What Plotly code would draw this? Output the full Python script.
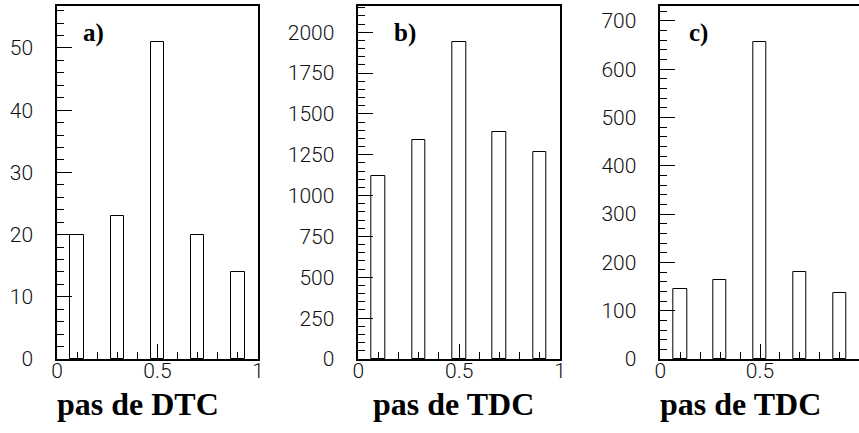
import plotly.graph_objects as go

# Data
bin_centers = [0.1, 0.3, 0.5, 0.7, 0.9]
bin_width = 1 / 15
counts_a = [20, 23, 51, 20, 14]
counts_b = [1120, 1339, 1943, 1388, 1265]
counts_c = [144, 164, 657, 181, 136]
panel_labels = ["a)", "b)", "c)"]
x_titles = ["pas de DTC", "pas de TDC", "pas de TDC"]

W, H = 859, 433
fig = go.Figure()

def px(x):
    return x / W

def py(y):
    return 1 - y / H

ydom = [py(359), py(6)]
panels = [
    dict(data=counts_a, xdom=[px(57), px(258)], xr=[0, 1], yr=[0, 56.75], dt=10, mdt=2,
         mirror_y=True, title_x=138),
    dict(data=counts_b, xdom=[px(358.3), px(560)], xr=[0, 1], yr=[0, 2161], dt=250, mdt=50,
         mirror_y=True, title_x=453),
    dict(data=counts_c, xdom=[px(660.3), 1.0], xr=[0, (859 - 660.3) / 199.4], yr=[0, 731], dt=100, mdt=20,
         mirror_y=False, title_x=740),
]
label_x = [93.5, 405, 698]

tickfont = dict(family="Roboto", size=21, color="#111111", weight=300)

for i, p in enumerate(panels):
    n = "" if i == 0 else str(i + 1)
    fig.add_trace(go.Bar(
        x=bin_centers, y=p["data"], width=bin_width,
        marker=dict(color="white", line=dict(color="black", width=1)),
        xaxis="x" + n, yaxis="y" + n, showlegend=False,
    ))
    fig.update_layout(**{
        "xaxis" + n: dict(domain=p["xdom"], range=p["xr"], anchor="y" + n, automargin=False,
                           showgrid=False, zeroline=False, showline=True, linecolor="black",
                           linewidth=1.5, mirror=True, ticks="inside", ticklen=15, tickwidth=1,
                           tickcolor="black", dtick=0.5, tick0=0, tickfont=tickfont,
                           ticklabelstandoff=-8,
                           minor=dict(dtick=0.1, ticks="inside", ticklen=7, tickcolor="black",
                                      tickwidth=1, showgrid=False)),
        "yaxis" + n: dict(domain=ydom, range=p["yr"], anchor="x" + n, automargin=False,
                           showgrid=False, zeroline=False, showline=True, linecolor="black",
                           linewidth=1.5, mirror=p["mirror_y"], ticks="inside", ticklen=15,
                           tickwidth=1, tickcolor="black", dtick=p["dt"], tick0=0,
                           tickfont=tickfont, ticklabelstandoff=18,
                           minor=dict(dtick=p["mdt"], ticks="inside", ticklen=7,
                                      tickcolor="black", tickwidth=1, showgrid=False)),
    })
    fig.add_annotation(text=x_titles[i], x=p["title_x"] / W, y=py(404), xref="paper", yref="paper",
                       showarrow=False, xanchor="center", yanchor="middle",
                       font=dict(family="Liberation Serif", size=32, color="black", weight="bold"))
    fig.add_annotation(text=panel_labels[i], x=label_x[i] / W, y=py(33), xref="paper", yref="paper",
                       showarrow=False, xanchor="center", yanchor="middle",
                       font=dict(family="Liberation Serif", size=25, color="black", weight="bold"))

fig.update_layout(width=W, height=H, margin=dict(l=0, r=0, t=0, b=0),
                  plot_bgcolor="white", paper_bgcolor="white", bargap=0)
fig.write_html("out.html")
